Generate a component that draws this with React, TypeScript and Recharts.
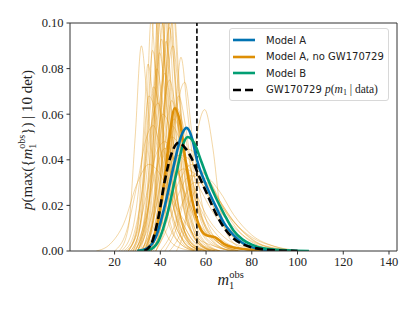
import { LineChart, Line, XAxis, YAxis, ReferenceLine } from "recharts";

type Pt = [number, number];

// thick model curves, [m1_obs, density]
const modelA: Pt[] = [
  [30, 0], [34, 0.001], [38, 0.006], [42, 0.02], [46, 0.038], [49, 0.05], [51.5, 0.054],
  [54, 0.049], [56, 0.04], [60, 0.029], [64, 0.02], [68, 0.012], [72, 0.007], [76, 0.0035],
  [80, 0.0017], [85, 0.0007], [92, 0.0002], [100, 0],
];
const modelANo: Pt[] = [
  [32, 0], [36, 0.003], [39, 0.013], [42, 0.033], [44, 0.05], [46.3, 0.0626], [48.5, 0.057],
  [51, 0.04], [54, 0.022], [57, 0.011], [60, 0.007], [64, 0.006], [68, 0.003], [72, 0.0015],
  [80, 0.0005], [90, 0],
];
const modelB: Pt[] = [
  [30, 0], [35, 0.0005], [39, 0.004], [43, 0.016], [47, 0.034], [50, 0.047], [52, 0.05],
  [55, 0.047], [58, 0.039], [61, 0.031], [64, 0.024], [68, 0.016], [72, 0.009], [76, 0.005],
  [80, 0.0028], [85, 0.0012], [95, 0.0003], [105, 0],
];
const gwPost: Pt[] = [
  [33, 0], [36, 0.003], [39, 0.014], [42, 0.031], [45, 0.043], [48, 0.0475], [51, 0.045],
  [54, 0.04], [56, 0.035], [60, 0.026], [64, 0.017], [68, 0.01], [72, 0.0055], [76, 0.003],
  [80, 0.0016], [85, 0.0007], [92, 0.0002], [100, 0],
];

// thin per-draw curves
const draws: Pt[][] = [
  [[28, 0], [33, 0.01], [37, 0.05], [40, 0.115], [43, 0.06], [47, 0.015], [52, 0.002], [58, 0]],
  [[30, 0], [35, 0.015], [38, 0.06], [41, 0.13], [44, 0.07], [48, 0.02], [54, 0.003], [60, 0]],
  [[27, 0], [31, 0.01], [35, 0.06], [37.5, 0.105], [40, 0.07], [44, 0.02], [50, 0.003], [56, 0]],
  [[31, 0], [36, 0.01], [40, 0.05], [43, 0.11], [46, 0.065], [50, 0.02], [56, 0.004], [64, 0]],
  [[29, 0], [34, 0.02], [38, 0.08], [39.5, 0.12], [42, 0.08], [46, 0.025], [52, 0.004], [58, 0]],
  [[33, 0], [38, 0.02], [42, 0.07], [44.5, 0.108], [47, 0.07], [51, 0.02], [57, 0.003], [64, 0]],
  [[26, 0], [31, 0.015], [34, 0.06], [36, 0.102], [38.5, 0.07], [42, 0.025], [48, 0.004], [55, 0]],
  [[30, 0], [35, 0.02], [39, 0.09], [41.5, 0.14], [44, 0.08], [48, 0.02], [54, 0.002], [60, 0]],
  [[33, 0], [37, 0.02], [41, 0.08], [43.5, 0.125], [46, 0.08], [50, 0.025], [56, 0.004], [62, 0]],
  [[35, 0], [40, 0.03], [43, 0.08], [46, 0.104], [48.5, 0.07], [52, 0.025], [58, 0.004], [66, 0]],
  [[22, 0], [26, 0.01], [29, 0.05], [31.7, 0.09], [34, 0.07], [37, 0.035], [41, 0.012], [47, 0.002], [55, 0]],
  [[27, 0], [31, 0.01], [34, 0.05], [36.6, 0.088], [39, 0.07], [43, 0.03], [48, 0.008], [56, 0.001], [62, 0]],
  [[29, 0], [33, 0.015], [37, 0.06], [39.7, 0.087], [42, 0.07], [46, 0.03], [52, 0.008], [60, 0.001], [66, 0]],
  [[26, 0], [30, 0.01], [32.5, 0.05], [34.6, 0.082], [37, 0.065], [41, 0.025], [47, 0.005], [55, 0]],
  [[36, 0], [41, 0.015], [45, 0.05], [48, 0.068], [51, 0.055], [55, 0.025], [60, 0.008], [68, 0.001], [74, 0]],
  [[37, 0], [42, 0.02], [46, 0.055], [50.7, 0.074], [54, 0.05], [58, 0.022], [63, 0.007], [70, 0.001], [76, 0]],
  [[47, 0], [51, 0.012], [55, 0.045], [59.4, 0.062], [63, 0.045], [66, 0.02], [70, 0.006], [76, 0.001], [80, 0]],
  [[30, 0], [35, 0.02], [39, 0.06], [42, 0.078], [45, 0.06], [49, 0.025], [55, 0.006], [62, 0.001], [68, 0]],
  [[32, 0], [36, 0.015], [40, 0.05], [44, 0.075], [47, 0.06], [51, 0.03], [57, 0.01], [64, 0.002], [72, 0]],
  [[28, 0], [32, 0.015], [36, 0.055], [38.5, 0.08], [41, 0.065], [45, 0.03], [51, 0.008], [58, 0.001], [64, 0]],
  [[12, 0], [18, 0.003], [24, 0.012], [30, 0.03], [35, 0.038], [39, 0.035], [44, 0.025], [50, 0.014], [56, 0.006], [64, 0.002], [72, 0]],
  [[30, 0], [36, 0.015], [41, 0.04], [45, 0.05], [49, 0.045], [54, 0.03], [60, 0.016], [68, 0.006], [78, 0.0015], [88, 0]],
  [[33, 0], [38, 0.01], [43, 0.03], [48, 0.042], [53, 0.04], [58, 0.03], [64, 0.018], [72, 0.008], [82, 0.002], [95, 0]],
  [[35, 0], [40, 0.01], [45, 0.028], [50, 0.036], [55, 0.034], [61, 0.025], [68, 0.015], [76, 0.007], [86, 0.002], [100, 0]],
  [[28, 0], [33, 0.012], [38, 0.035], [42, 0.045], [46, 0.04], [51, 0.025], [57, 0.012], [65, 0.004], [74, 0]],
  [[31, 0], [36, 0.01], [41, 0.035], [45, 0.055], [48, 0.05], [52, 0.035], [57, 0.02], [64, 0.008], [72, 0.002], [82, 0]],
  [[38, 0], [43, 0.01], [48, 0.025], [53, 0.033], [58, 0.032], [64, 0.024], [71, 0.014], [80, 0.006], [90, 0.002], [104, 0]],
  [[25, 0], [30, 0.008], [34, 0.025], [38, 0.042], [42, 0.048], [46, 0.04], [51, 0.024], [57, 0.01], [65, 0.002], [72, 0]],
  [[34, 0], [39, 0.012], [43, 0.04], [46, 0.058], [49, 0.05], [53, 0.03], [58, 0.014], [65, 0.004], [74, 0]],
  [[32, 0], [37, 0.01], [42, 0.03], [47, 0.042], [52, 0.038], [57, 0.028], [63, 0.017], [70, 0.008], [78, 0.002], [86, 0]],
  [[40, 0], [45, 0.008], [50, 0.022], [55, 0.03], [60, 0.03], [66, 0.022], [72, 0.013], [80, 0.005], [90, 0.001], [100, 0]],
  [[29, 0], [34, 0.015], [38, 0.045], [41, 0.06], [44, 0.055], [48, 0.035], [53, 0.015], [60, 0.003], [66, 0]],
  [[36, 0], [40, 0.015], [44, 0.045], [47, 0.063], [50, 0.055], [54, 0.032], [59, 0.013], [66, 0.003], [74, 0]],
  [[24, 0], [28, 0.006], [32, 0.025], [36, 0.055], [39, 0.065], [42, 0.05], [46, 0.025], [52, 0.008], [60, 0]],
  [[38, 0], [42, 0.01], [46, 0.03], [50, 0.045], [54, 0.044], [58, 0.033], [63, 0.02], [70, 0.008], [78, 0.002], [88, 0]],
  [[32, 0], [36, 0.02], [39, 0.07], [41, 0.1], [43, 0.075], [47, 0.025], [53, 0.004], [60, 0]],
  [[34, 0], [38, 0.025], [41.5, 0.08], [44, 0.098], [46.5, 0.075], [50, 0.03], [56, 0.006], [62, 0]],
  [[31, 0], [35, 0.02], [38, 0.065], [40.5, 0.093], [43, 0.07], [47, 0.025], [53, 0.004], [60, 0]],
  [[33, 0], [37, 0.015], [40, 0.06], [42.5, 0.092], [45, 0.07], [49, 0.028], [55, 0.006], [62, 0]],
  [[35, 0], [39, 0.02], [42.5, 0.07], [45.5, 0.09], [48, 0.07], [52, 0.03], [58, 0.006], [66, 0]],
  [[20, 0], [25, 0.008], [30, 0.03], [34, 0.05], [37, 0.055], [40, 0.045], [45, 0.022], [51, 0.006], [58, 0]],
  [[26, 0], [30, 0.012], [34, 0.045], [37, 0.072], [40, 0.06], [44, 0.028], [50, 0.007], [57, 0]],
  [[36, 0], [42, 0.012], [48, 0.03], [54, 0.038], [60, 0.033], [66, 0.022], [73, 0.012], [82, 0.004], [92, 0.001], [102, 0]],
  [[42, 0], [47, 0.01], [52, 0.028], [57, 0.035], [62, 0.03], [68, 0.018], [75, 0.008], [84, 0.002], [94, 0]],
  [[30, 0], [34, 0.02], [37, 0.07], [39, 0.105], [41, 0.08], [45, 0.025], [51, 0.003], [57, 0]],
  [[36, 0], [40, 0.025], [43, 0.085], [45, 0.115], [47.5, 0.08], [51, 0.03], [57, 0.004], [64, 0]],
  [[38, 0], [42, 0.015], [46, 0.05], [49, 0.085], [52, 0.06], [56, 0.025], [62, 0.006], [70, 0]],
  [[23, 0], [28, 0.01], [32, 0.04], [35, 0.068], [38, 0.06], [42, 0.03], [48, 0.008], [55, 0]],
  [[33, 0], [38, 0.018], [42, 0.048], [45, 0.066], [48, 0.055], [52, 0.035], [58, 0.015], [66, 0.004], [75, 0]],
  [[44, 0], [49, 0.008], [54, 0.024], [60, 0.032], [66, 0.026], [72, 0.016], [80, 0.007], [90, 0.002], [100, 0]],
];

const xTicks = [20, 40, 60, 80, 100, 120, 140];
const yTicks = [0, 0.02, 0.04, 0.06, 0.08, 0.1];
const gwMedian = 56;

const X_MIN = 0.5;
const X_MAX = 143.5;
const Y_MAX = 0.1;

const BLUE = "#0173b2";
const ORANGE = "#de8f05";
const GREEN = "#029e73";
const SERIF = "'Liberation Serif', 'DejaVu Serif', serif";
const SANS = "'DejaVu Sans', sans-serif";

const toPts = (a: Pt[]) => a.map(([x, y]) => ({ x, y }));

const tickStyle = { fontFamily: SERIF, fontSize: 12.5, fill: "#222" };

function XLabel(props: any) {
  const vb = props.viewBox || {};
  const cx = vb.x + vb.width / 2;
  const y = 285;
  return (
    <text x={cx - 16} y={y} fontFamily={SERIF} fill="#222" fontSize={16}>
      <tspan fontStyle="italic">m</tspan>
      <tspan fontSize={10.5} dy={4}>1</tspan>
      <tspan fontSize={10.5} dx={-5} dy={-11}>obs</tspan>
    </text>
  );
}

function YLabel() {
  return (
    <text
      x={0}
      y={0}
      transform="translate(32,140) rotate(-90)"
      textAnchor="middle"
      fontFamily={SERIF}
      fill="#222"
      fontSize={15}
    >
      <tspan fontStyle="italic">p</tspan>
      <tspan>(max({"{"}</tspan>
      <tspan fontStyle="italic">m</tspan>
      <tspan fontSize={10} dy={3.5}>1</tspan>
      <tspan fontSize={10} dx={-5} dy={-10.5}>obs</tspan>
      <tspan dy={7}>{"})"} | 10 det)</tspan>
    </text>
  );
}

const legendRows = [
  { key: "a", color: BLUE, dash: false, label: <>Model A</> },
  { key: "an", color: ORANGE, dash: false, label: <>Model A, no GW170729</> },
  { key: "b", color: GREEN, dash: false, label: <>Model B</> },
  {
    key: "gw",
    color: "#000",
    dash: true,
    label: (
      <>
        GW170729{" "}
        <span style={{ fontFamily: SERIF, fontSize: 11.5 }}>
          <i>p</i>(<i>m</i>
          <sub style={{ fontSize: 8, verticalAlign: "-2px" }}>1</sub> | data)
        </span>
      </>
    ),
  },
];

function LegendBox() {
  return (
    <div
      style={{
        position: "absolute",
        left: 229,
        top: 28,
        width: 160,
        height: 73,
        border: "1px solid #d8d8d8",
        borderRadius: 3,
        background: "rgba(255,255,255,0.85)",
        fontFamily: SANS,
        fontSize: 10,
        color: "#222",
        boxSizing: "border-box",
        paddingTop: 3,
      }}
    >
      {legendRows.map((r) => (
        <div key={r.key} style={{ display: "flex", alignItems: "center", height: 16.5, whiteSpace: "nowrap" }}>
          <svg width={36} height={10} style={{ flex: "none" }}>
            <line
              x1={3}
              x2={25}
              y1={5}
              y2={5}
              stroke={r.color}
              strokeWidth={2.6}
              strokeDasharray={r.dash ? "8 4" : undefined}
            />
          </svg>
          <span>{r.label}</span>
        </div>
      ))}
    </div>
  );
}

export default function App() {
  return (
    <div style={{ position: "absolute", left: 0, top: 0, width: 415, height: 311, background: "#fff" }}>
      <LineChart width={415} height={311} margin={{ top: 23, right: 18, left: 15, bottom: 30 }}>
        <XAxis
          type="number"
          dataKey="x"
          domain={[X_MIN, X_MAX]}
          ticks={xTicks}
          allowDataOverflow
          stroke="#333"
          tickSize={3.5}
          tickMargin={3}
          tick={tickStyle}
          height={30}
          label={(p: any) => <XLabel {...p} />}
        />
        <YAxis
          type="number"
          dataKey="y"
          domain={[0, Y_MAX]}
          ticks={yTicks}
          allowDataOverflow
          stroke="#333"
          tickSize={3.5}
          tickMargin={3}
          tick={tickStyle}
          width={55}
          tickFormatter={(v: number) => v.toFixed(2)}
          label={() => <YLabel />}
        />
        <ReferenceLine y={Y_MAX} stroke="#333" strokeWidth={1} />
        <ReferenceLine x={X_MAX} stroke="#333" strokeWidth={1} />
        {draws.map((d, i) => (
          <Line
            key={"d" + i}
            data={toPts(d)}
            dataKey="y"
            type="monotone"
            stroke={ORANGE}
            strokeOpacity={0.4}
            strokeWidth={0.9}
            dot={false}
            isAnimationActive={false}
          />
        ))}
        <ReferenceLine x={gwMedian} stroke="#000" strokeWidth={1.6} strokeDasharray="5 2.5" />
        <Line data={toPts(modelANo)} dataKey="y" type="monotone" stroke={ORANGE} strokeWidth={2.6} dot={false} isAnimationActive={false} />
        <Line data={toPts(modelA)} dataKey="y" type="monotone" stroke={BLUE} strokeWidth={2.6} dot={false} isAnimationActive={false} />
        <Line data={toPts(modelB)} dataKey="y" type="monotone" stroke={GREEN} strokeWidth={2.6} dot={false} isAnimationActive={false} />
        <Line data={toPts(gwPost)} dataKey="y" type="monotone" stroke="#000" strokeWidth={2.6} strokeDasharray="8 4" dot={false} isAnimationActive={false} />
      </LineChart>
      <LegendBox />
    </div>
  );
}
